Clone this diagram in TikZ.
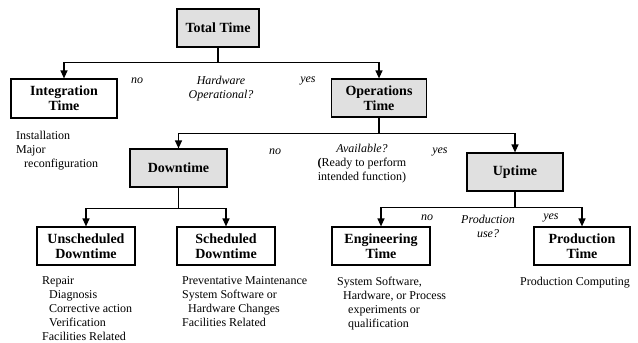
\documentclass[tikz,border=0pt]{standalone}
\usepackage{fontspec}
\setmainfont{Liberation Serif}
\usetikzlibrary{arrows.meta}
\definecolor{boxgray}{RGB}{224,224,224}
\tikzset{
  tbox/.style={draw=black, line width=1.2pt, minimum height=38pt, minimum width=97pt,
    inner sep=1pt, align=center, font={\fontsize{14}{15}\selectfont\bfseries}},
  gbox/.style={tbox, fill=boxgray},
  conn/.style={line width=1.2pt, -{Triangle[length=8pt,width=7pt]}},
  lbl/.style={inner sep=0pt, font={\fontsize{12}{14}\selectfont\itshape}},
  note/.style={inner sep=0pt, anchor=north west, align=left, font={\fontsize{12}{14}\selectfont}},
}
\begin{document}
\begin{tikzpicture}[x=1pt,y=-1pt]
\useasboundingbox (0,0) rectangle (638,343);
% boxes
\node[gbox, minimum width=82pt] (total) at (218,28) {Total Time};
\node[tbox, minimum width=106pt, minimum height=39pt] (integ) at (64,98.5) {Integration\\Time};
\node[gbox, minimum width=95pt] (ops) at (379,98) {Operations\\Time};
\node[gbox] (down) at (178.5,168) {Downtime};
\node[gbox, minimum width=96pt] (up) at (515,172) {Uptime};
\node[tbox, minimum width=98pt] (unsch) at (86,246) {Unscheduled\\Downtime};
\node[tbox, minimum width=98pt] (sch) at (226,246) {Scheduled\\Downtime};
\node[tbox, minimum width=98pt] (eng) at (381,246) {Engineering\\Time};
\node[tbox, minimum width=96pt] (prod) at (582,246) {Production\\Time};
% connectors
\draw[conn] (total.south) -- ++(0,15) -| (integ.north);
\draw[conn] (total.south) -- ++(0,15) -| (ops.north);
\draw[conn] (ops.south) -- ++(0,16) -| (down.north);
\draw[conn] (ops.south) -- ++(0,16) -| (up.north);
\draw[conn] (down.south) -- ++(0,21) -| (unsch.north);
\draw[conn] (down.south) -- ++(0,21) -| (sch.north);
\draw[conn] (up.south) -- ++(0,16) -| (eng.north);
\draw[conn] (up.south) -- ++(0,16) -| (prod.north);
% decision labels
\node[lbl] (no1) at (137,81) {no};
\node[lbl, align=center] (q1) at (221,89) {Hardware\\Operational?};
\node[lbl] (yes1) at (308,81) {yes};
\node[lbl] (no2) at (275,152) {no};
\node[lbl, align=center] (q2) at (362,164) {Available?\\\upshape{\bfseries(}Ready to perform\\\upshape intended function)};
\node[lbl] (yes2) at (440,152) {yes};
\node[lbl] (no3) at (427,218) {no};
\node[lbl, align=center] (q3) at (488,226) {Production\\use?};
\node[lbl] (yes3) at (551,218) {yes};
% notes
\node[note] (n1) at (16,131) {Installation\\Major\\\hspace*{8pt}reconfiguration};
\node[note] (n2) at (42,276) {Repair\\\hspace*{7pt}Diagnosis\\\hspace*{7pt}Corrective action\\\hspace*{7pt}Verification\\Facilities Related};
\node[note] (n3) at (182,276) {Preventative Maintenance\\System Software or\\\hspace*{6pt}Hardware Changes\\Facilities Related};
\node[note] (n4) at (337,277) {System Software,\\\hspace*{6pt}Hardware, or Process\\\hspace*{11pt}experiments or\\\hspace*{11pt}qualification};
\node[note] (n5) at (520,277) {Production Computing};
\end{tikzpicture}
\end{document}
